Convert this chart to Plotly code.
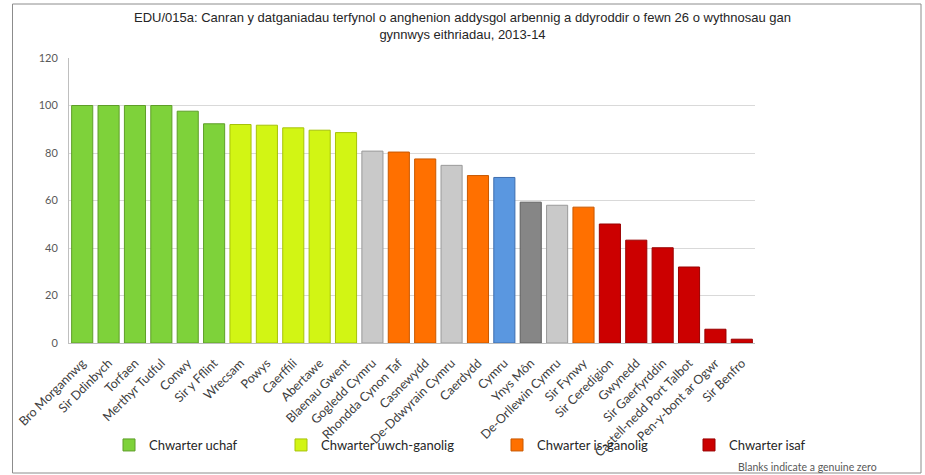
import plotly.graph_objects as go

categories = ["Bro Morgannwg", "Sir Ddinbych", "Torfaen", "Merthyr Tudful", "Conwy", "Sir y Fflint",
              "Wrecsam", "Powys", "Caerffili", "Abertawe", "Blaenau Gwent", "Gogledd Cymru",
              "Rhondda Cynon Taf", "Casnewydd", "De-Ddwyrain Cymru", "Caerdydd", "Cymru", "Ynys Môn",
              "De-Orllewin Cymru", "Sir Fynwy", "Sir Ceredigion", "Gwynedd", "Sir Gaerfyrddin",
              "Castell-nedd Port Talbot", "Pen-y-bont ar Ogwr", "Sir Benfro"]
values = [100, 100, 100, 100, 97.6, 92.3,
          92.0, 91.7, 90.6, 89.6, 88.6, 80.8,
          80.4, 77.5, 74.8, 70.5, 69.7, 59.3,
          58.0, 57.2, 50.1, 43.3, 40.1,
          32.0, 5.8, 1.6]
groups = ["uchaf"] * 6 + ["uwch"] * 5 + ["region", "is", "is", "region", "is", "wales", "other",
                                          "region", "is"] + ["isaf"] * 6

group_names = {"uchaf": "Chwarter uchaf", "uwch": "Chwarter uwch-ganolig",
               "is": "Chwarter is-ganolig", "isaf": "Chwarter isaf",
               "region": "Rhanbarth", "wales": "Cymru", "other": "Arall"}
group_fill = {"uchaf": "#7ED23A", "uwch": "#D2F514", "is": "#FF7000", "isaf": "#CC0000",
              "region": "#C9C9C9", "wales": "#5A97E0", "other": "#868686"}
group_line = {"uchaf": "#5E9E28", "uwch": "#A6C20A", "is": "#C85800", "isaf": "#990000",
              "region": "#9A9A9A", "wales": "#3D6DAE", "other": "#606060"}
legend_of = {"uchaf": "legend", "uwch": "legend2", "is": "legend3", "isaf": "legend4"}

fig = go.Figure()
for g in ["uchaf", "uwch", "is", "isaf", "region", "wales", "other"]:
    xs = [c for c, gg in zip(categories, groups) if gg == g]
    ys = [v for v, gg in zip(values, groups) if gg == g]
    fig.add_trace(go.Bar(
        x=xs, y=ys, name=group_names[g],
        marker=dict(color=group_fill[g], line=dict(color=group_line[g], width=1)),
        showlegend=g in legend_of,
        legend=legend_of.get(g, "legend"),
    ))

L, R, T, B = 69, 170, 58, 132
W, H = 925, 475
pw, ph = W - L - R, H - T - B


def px_x(p):
    return (p - L) / pw


def px_y(p):
    return (H - B - p) / ph


leg_font = dict(family="Lato, Noto Sans, sans-serif", size=13, color="#262626")
leg_y = px_y(445)
common_leg = dict(orientation="h", yanchor="middle", y=leg_y, xanchor="left",
                  font=leg_font, bgcolor="rgba(0,0,0,0)", borderwidth=0)

fig.update_layout(
    width=W, height=H,
    margin=dict(l=L, r=R, t=T, b=B, autoexpand=False),
    paper_bgcolor="white", plot_bgcolor="white",
    barmode="overlay", bargap=0.2,
    title=dict(text="EDU/015a: Canran y datganiadau terfynol o anghenion addysgol arbennig a ddyroddir o fewn 26 o wythnosau gan<br>gynnwys eithriadau, 2013-14",
               x=0.5, xref="container", xanchor="center",
               y=1 - 22 / H, yref="container", yanchor="top",
               font=dict(family="Liberation Sans, Arial, sans-serif", size=13, color="#262626")),
    xaxis=dict(categoryorder="array", categoryarray=categories, tickangle=-45,
               tickfont=dict(family="Lato, Noto Sans, sans-serif", size=12.5, color="#404040"),
               showline=True, linecolor="#BFBFBF", linewidth=1, ticks="", showgrid=False,
               ticklabelstandoff=7),
    yaxis=dict(range=[0, 120], dtick=20, showgrid=True, gridcolor="#D9D9D9", gridwidth=1,
               showline=True, linecolor="#BFBFBF", linewidth=1, zeroline=False,
               tickfont=dict(family="Lato, Noto Sans, sans-serif", size=11, color="#595959"),
               ticks="", ticklabelstandoff=8),
    legend=dict(x=px_x(109), **common_leg),
    legend2=dict(x=px_x(281), **common_leg),
    legend3=dict(x=px_x(497), **common_leg),
    legend4=dict(x=px_x(689), **common_leg),
    annotations=[dict(text="Blanks indicate a genuine zero", x=px_x(736), y=px_y(467),
                      xref="paper", yref="paper", xanchor="left", yanchor="middle",
                      showarrow=False,
                      font=dict(family="Lato, Noto Sans, sans-serif", size=10.5, color="#595959"))],
    shapes=[dict(type="rect", xref="paper", yref="paper",
                 x0=px_x(12.5), x1=px_x(921), y0=px_y(473), y1=px_y(4),
                 line=dict(color="#8C8C8C", width=1), fillcolor="rgba(0,0,0,0)", layer="below")],
)

fig.write_html("out.html", config={"displayModeBar": False},
               post_script="document.body.style.margin='0';document.body.style.overflow='hidden';")
